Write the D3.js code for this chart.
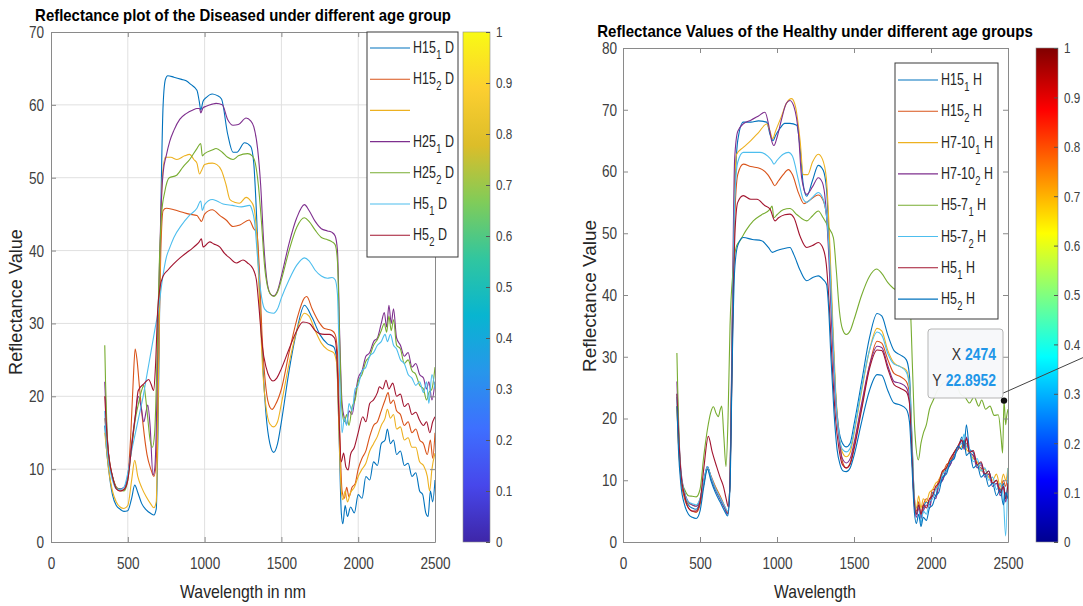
<!DOCTYPE html>
<html lang='en'>
<head>
<meta charset="utf-8">
<script src="https://cdn.jsdelivr.net/npm/d3@7/dist/d3.min.js"></script>
<style>
body { margin:0; background:#fff; }
svg text { font-family: "Liberation Sans", Arial, sans-serif; }
</style>
</head>
<body>
<svg id="chart" width="1083" height="606"></svg>
<script>

// ---------- axis ticks ----------
var wavelengthTicks = [0, 500, 1000, 1500, 2000, 2500];
var diseasedTicks = [0, 10, 20, 30, 40, 50, 60, 70];
var healthyTicks = [0, 10, 20, 30, 40, 50, 60, 70, 80];
var colorbarTicks = [0, 0.1, 0.2, 0.3, 0.4, 0.5, 0.6, 0.7, 0.8, 0.9, 1];

// ---------- left panel : diseased ----------
var diseasedLabels = [["H15","1","D"], ["H15","2","D"], null, ["H25","1","D"], ["H25","2","D"], ["H5","1","D"], ["H5","2","D"]];
var diseasedColors = ["#0072BD", "#D95319", "#EDB120", "#7E2F8E", "#77AC30", "#4DBEEE", "#A2142F"];

var h15_1_D = [[350,16],[360,13],[375,10],[400,6.5],[425,5],[450,4.5],[475,4.2],[500,4.3],[525,6],[545,7.8],[565,6.8],[590,5.3],[620,4.4],[650,3.9],[670,3.7],[685,4.5],[700,20],[715,45],[730,60],[745,63.5],[760,64],[800,63.8],[850,63.5],[880,63.3],[910,62.8],[950,62],[965,60.5],[975,59.3],[990,60.5],[1010,61],[1050,61.5],[1080,61.3],[1110,60.8],[1150,56],[1185,53.5],[1210,53.5],[1260,54.8],[1300,54.3],[1320,52],[1340,44],[1360,33],[1380,24],[1400,17.5],[1425,13.5],[1450,12.3],[1475,13.5],[1500,16.5],[1550,23.5],[1600,29],[1650,32.5],[1700,30.8],[1750,28.5],[1800,27.2],[1840,26.8],[1860,25],[1875,15],[1890,4],[1900,2.5],[1915,5],[1930,3.5],[1950,4.8],[1975,4],[2000,6.5],[2025,6],[2050,9],[2075,8.5],[2100,11],[2125,10.5],[2150,13.5],[2175,14],[2190,15.5],[2210,13.5],[2230,14],[2250,12],[2275,12.5],[2300,10.5],[2325,10.8],[2350,9],[2375,9.5],[2400,7],[2420,6.5],[2440,4],[2455,3.5],[2470,7],[2485,5.5],[2500,8.5]];
var h15_2_D = [[350,17],[360,15],[375,12],[400,9],[425,7.5],[450,7],[475,7.2],[500,9],[520,15],[535,22],[548,26.5],[560,25],[575,21.5],[600,16],[625,12],[650,10],[670,9],[685,11],[700,25],[715,40],[730,45.5],[750,45.8],[800,45.6],[850,45.3],[900,45],[950,44.8],[968,44.3],[980,44],[1000,45],[1050,45.6],[1100,44.8],[1140,44.2],[1185,43.3],[1230,43.5],[1290,44.2],[1320,43],[1340,42.5],[1355,38],[1375,28],[1400,21],[1425,18.5],[1440,18.2],[1460,18.8],[1500,21],[1550,26],[1600,30.5],[1650,33.5],[1665,33.7],[1700,32],[1750,30],[1780,29.3],[1800,29.2],[1830,29],[1850,28.5],[1865,26],[1880,15],[1895,7],[1910,6],[1925,7.5],[1940,6.2],[1960,7.5],[1980,8],[2000,10],[2025,11.5],[2050,12.5],[2075,14.5],[2100,16],[2125,16.5],[2150,18],[2175,19.5],[2195,20.5],[2210,19],[2230,19.5],[2250,18],[2275,17.5],[2300,16],[2325,16.5],[2350,15],[2375,15.5],[2400,14],[2425,13.5],[2450,12],[2470,14],[2485,11.5],[2500,15]];
var h_blank_D = [[350,15],[360,13],[375,10],[400,7],[425,5.5],[450,4.8],[475,4.6],[500,5],[525,8.5],[545,11.2],[565,9],[590,7.5],[620,6.2],[650,5.2],[670,4.7],[685,5.5],[695,15],[710,38],[725,50],[745,52.8],[780,52.8],[820,52.5],[870,53],[903,53.2],[930,52.5],[950,52],[967,50.5],[980,51],[1000,51.8],[1050,52],[1080,51.8],[1110,51],[1140,49],[1165,47],[1200,46.6],[1227,46.5],[1270,47.3],[1300,46.8],[1320,46],[1340,42],[1360,32],[1380,23],[1400,18.5],[1425,16.2],[1450,15.8],[1475,16.5],[1500,19],[1550,24.5],[1600,29],[1650,31.4],[1680,31],[1720,29],[1760,27.3],[1800,26.4],[1840,26],[1860,24.5],[1875,15],[1890,7],[1900,5.8],[1915,7],[1930,5.5],[1950,6.8],[1975,7.5],[2000,9],[2025,10],[2050,10.8],[2075,12.5],[2100,13.5],[2125,14.5],[2150,16],[2175,17],[2190,18.2],[2210,17],[2230,17.5],[2250,15.5],[2275,15.8],[2300,14],[2325,14.3],[2350,13],[2375,13],[2400,11],[2425,10.5],[2450,9],[2465,7],[2480,10],[2500,12.2]];
var h25_1_D = [[350,22],[360,17],[375,12],[400,9],[425,7.5],[450,7.3],[475,7.5],[500,9],[525,13.5],[550,17.5],[568,20],[586,18.6],[604,16.5],[620,18],[630,18.8],[645,16],[664,9.2],[675,10],[685,15],[700,33],[715,45],[730,50.7],[750,53],[773,55],[800,56.5],[838,58],[880,58.8],[924,59.3],[950,59.5],[967,59.5],[975,58.9],[990,59.6],[1010,59.8],[1050,60.1],[1075,60.2],[1115,60],[1150,58],[1185,57.2],[1220,57.3],[1270,58.2],[1300,57.8],[1320,57],[1345,54],[1365,49],[1385,41],[1405,36],[1430,34],[1450,33.8],[1475,34.5],[1500,36.5],[1550,41],[1600,44.5],[1650,46.3],[1680,45.5],[1720,44],[1760,43],[1800,42.7],[1830,42.5],[1850,42],[1865,40],[1880,28],[1895,19],[1910,17],[1925,16.2],[1940,18],[1960,17.5],[1980,20],[2000,22.5],[2025,23.5],[2050,25.5],[2075,26],[2100,27.5],[2125,28],[2150,30],[2170,31.5],[2185,29.5],[2200,32.5],[2215,30],[2230,32],[2250,28],[2275,27],[2300,25.5],[2325,26],[2350,24],[2375,24.5],[2400,23],[2425,22.5],[2445,21],[2460,22],[2480,19.5],[2500,22]];
var h25_2_D = [[350,27],[355,22],[365,15],[380,11],[400,9],[425,7.5],[450,7.2],[475,7],[500,8.5],[525,13],[550,17],[575,19.5],[590,20.8],[605,21.5],[615,20],[630,17],[645,14],[660,13],[675,15],[690,25],[705,38],[720,45],[740,48],[770,50],[815,50.3],[860,51.5],[903,52.5],[950,54],[975,54.7],[985,53],[1000,53.3],[1050,53.8],[1075,54],[1115,53.5],[1150,52.8],[1185,52.5],[1220,53],[1281,53.3],[1310,53],[1330,52],[1350,49],[1370,44],[1390,38],[1410,35],[1430,34],[1450,33.7],[1475,34.3],[1500,36],[1550,40],[1600,43.2],[1650,44.5],[1680,44],[1720,42.8],[1760,41.8],[1800,41.5],[1830,41.2],[1850,40.8],[1865,38.5],[1880,27],[1895,18],[1910,16.5],[1925,17.5],[1940,16],[1960,18.5],[1980,19.5],[2000,22],[2025,23],[2050,24.8],[2075,25.5],[2100,27],[2125,27.8],[2150,29],[2170,30],[2185,28.8],[2200,31],[2215,29],[2230,30.5],[2250,27],[2275,26.5],[2300,24.5],[2325,25],[2350,23.5],[2375,23],[2400,21.5],[2425,21],[2445,19.5],[2460,20.5],[2480,21],[2500,24]];
var h5_1_D = [[350,18],[360,14],[375,11],[400,8.5],[425,7.3],[450,7.2],[475,7.5],[500,9.5],[525,12.5],[550,15],[575,17.5],[600,20],[625,23],[650,26],[675,29],[700,32],[725,36],[750,39],[775,40.5],[800,41.8],[850,43.5],[900,44.8],[950,45.8],[975,46.8],[985,45.5],[1000,46.3],[1050,47],[1080,46.8],[1120,46.4],[1180,46.2],[1240,46],[1293,46.2],[1310,45.5],[1325,44],[1345,39],[1365,34.5],[1390,32],[1420,31.5],[1450,31.4],[1475,32],[1500,33.5],[1550,36],[1600,38],[1650,39],[1680,38.6],[1720,37.3],[1760,36.5],[1800,36.2],[1830,36.3],[1850,36],[1865,34],[1880,22],[1895,15],[1910,17],[1925,16],[1940,19],[1960,18],[1980,21],[2000,21.5],[2025,23.5],[2050,24],[2075,25.5],[2100,26],[2125,27],[2150,27.5],[2175,28.5],[2190,27.5],[2210,28.5],[2230,27],[2250,26.5],[2275,25],[2300,24.5],[2325,23],[2350,22.5],[2375,21.5],[2400,22],[2425,20.5],[2445,22],[2460,19],[2480,23],[2500,21]];
var h5_2_D = [[350,20],[360,16],[375,12],[400,9],[425,7.3],[450,7],[475,7.2],[500,8.5],[525,13.1],[550,17.5],[568,20.8],[604,21.7],[636,22.3],[651,21.7],[668,20.8],[680,24],[695,32],[710,35],[730,36.5],[760,37.3],[795,38.1],[840,39],[882,39.7],[920,40.3],[947,40.8],[965,41.2],[979,41.6],[990,40.5],[1000,40.6],[1033,41.2],[1060,40.9],[1098,40.5],[1130,39.6],[1163,39],[1207,38.3],[1250,38.7],[1280,38.3],[1315,37.5],[1337,36],[1355,32],[1375,27],[1400,24],[1425,22.5],[1445,22.1],[1470,22.5],[1500,23.8],[1550,26.5],[1600,29],[1640,30.2],[1683,30],[1720,29],[1748,28.6],[1780,28.5],[1813,28.5],[1846,28],[1860,26],[1875,17],[1890,11],[1905,12.2],[1920,10.3],[1935,9.9],[1950,12],[1975,13],[2000,15],[2030,17.2],[2050,16.5],[2075,19],[2100,19.5],[2125,20.5],[2138,21.3],[2160,21],[2181,22.2],[2200,21],[2225,21.8],[2250,20],[2275,20.3],[2300,18.6],[2325,19],[2350,17.5],[2375,17.8],[2400,16.7],[2425,16],[2445,16.5],[2466,15],[2485,16.5],[2500,17.2]];

// ---------- right panel : healthy ----------
var healthyLabels = [["H15","1","H"], ["H15","2","H"], ["H7-10","1","H"], ["H7-10","2","H"], ["H5-7","1","H"], ["H5-7","2","H"], ["H5","1","H"], ["H5","2","H"]];
var healthyColors = ["#0072BD", "#D95319", "#EDB120", "#7E2F8E", "#77AC30", "#4DBEEE", "#A2142F", "#0072BD"];

var h15_1_H = [[350,23.5],[360,17],[375,11],[400,7.5],[425,6],[450,5.5],[475,5.3],[500,6.5],[525,9.5],[548,12.2],[570,10.5],[600,8.5],[630,7],[660,5.5],[680,4.5],[695,10],[710,35],[725,55],[745,65],[781,68],[830,68],[880,68.2],[933,68],[955,66],[975,65],[990,65.8],[1020,67],[1050,67.8],[1084,67.8],[1128,67.5],[1149,64],[1170,58],[1193,56],[1230,58.5],[1268,61],[1300,60.2],[1322,57],[1340,48],[1360,35],[1380,24],[1400,18.5],[1425,16],[1450,15.4],[1475,16],[1500,19],[1550,26],[1600,33],[1650,37],[1680,36.6],[1720,33.5],[1760,31],[1800,30.3],[1840,29.5],[1860,27],[1875,18],[1890,8],[1905,4.5],[1920,6],[1935,4],[1950,5.5],[1970,6.5],[1990,6],[2010,8],[2030,7.5],[2050,9.5],[2075,10],[2100,12],[2125,12.5],[2150,14.5],[2175,15],[2200,17],[2215,15.5],[2230,19],[2250,15],[2275,14.5],[2300,12.5],[2325,12.8],[2350,11],[2375,11.5],[2400,9.5],[2425,10],[2450,8],[2470,9.5],[2485,7],[2500,10]];
var h15_2_H = [[350,22],[360,16],[375,10.5],[400,7],[425,5.5],[450,5],[475,4.8],[500,6],[525,9.5],[548,12.1],[570,10.8],[600,9],[630,7.5],[660,5.8],[680,4.8],[695,10],[710,33],[725,52],[745,59.5],[781,61.2],[830,60.8],[890,60.5],[940,59.5],[965,58.5],[985,57.7],[1010,58.5],[1040,59.5],[1074,60.3],[1100,59.5],[1140,56.5],[1175,54.8],[1210,55.3],[1268,56.2],[1300,55.3],[1325,52],[1345,44],[1365,32],[1385,22],[1405,16.5],[1425,13],[1450,12],[1475,12.8],[1500,15.5],[1550,22],[1600,28.5],[1650,32.5],[1680,32.2],[1720,29.5],[1760,27.3],[1800,26.8],[1840,26],[1860,24],[1875,16],[1890,7],[1905,5],[1920,6.5],[1935,4.5],[1950,6],[1970,7],[1990,6.5],[2010,8.5],[2030,8.5],[2050,10],[2075,11],[2100,12.5],[2125,13],[2150,14.5],[2175,15.5],[2200,16.5],[2215,15.5],[2230,16],[2250,14.5],[2275,14],[2300,12.5],[2325,12],[2350,11],[2375,11],[2400,9.5],[2425,10],[2450,8.5],[2470,10],[2485,9],[2500,11.5]];
var h7_10_1_H = [[350,22],[360,16],[375,11],[400,8],[425,6.3],[450,6],[475,5.8],[500,7],[525,9.8],[548,12],[570,10.5],[600,8.8],[630,7.2],[660,5.6],[680,4.8],[695,10],[710,36],[725,58],[738,62.8],[781,63.9],[830,65],[880,66.3],[933,67.7],[955,66.5],[972,65.3],[990,66.5],[1030,69],[1060,71],[1095,71.8],[1120,70.5],[1150,65],[1171,59.5],[1200,59.5],[1230,61.5],[1268,62.8],[1295,62],[1320,59],[1340,50],[1360,37],[1380,25],[1400,18],[1425,14.5],[1450,13.8],[1475,14.5],[1500,17.5],[1550,24.5],[1600,31],[1650,34.6],[1680,34.2],[1720,31],[1760,29],[1800,28.4],[1840,27.8],[1860,25.5],[1875,17],[1890,8],[1905,5.5],[1920,7.5],[1935,5.5],[1950,7],[1970,6.5],[1990,8],[2010,8.5],[2030,9.5],[2050,10],[2075,11.5],[2100,12],[2125,13.5],[2150,14],[2175,15],[2200,15.5],[2215,16.5],[2230,15],[2250,14.5],[2275,13.5],[2300,13],[2325,11.5],[2350,11.8],[2375,10.5],[2400,10],[2425,11],[2450,9],[2470,11],[2485,10],[2500,12]];
var h7_10_2_H = [[350,26],[360,19],[375,12],[400,8],[425,6.5],[450,6],[475,5.8],[500,6.8],[525,10],[548,12.2],[570,10.5],[600,8.5],[630,7],[660,5.5],[680,4.6],[695,10],[710,38],[725,62],[745,66.5],[781,67.7],[830,68.3],[880,69],[922,69.6],[950,67],[965,65],[980,64.2],[1000,65.5],[1030,68.5],[1060,71],[1084,71.5],[1110,70.5],[1140,66],[1160,59],[1193,56.3],[1230,57.5],[1268,59],[1295,58.2],[1315,55],[1335,47],[1355,35],[1375,25],[1400,17.5],[1425,13.5],[1450,12.8],[1475,13.5],[1500,16],[1550,22.5],[1600,28.5],[1650,31.7],[1680,31.5],[1720,28.5],[1760,26],[1800,25.7],[1840,25],[1860,23],[1875,15],[1890,6.5],[1905,4],[1920,5.5],[1935,3.8],[1950,5],[1970,6],[1990,5.5],[2010,7.5],[2030,7],[2050,9],[2075,10],[2100,11.5],[2125,12.5],[2150,14],[2175,15],[2200,16.5],[2215,15],[2230,17],[2250,14.5],[2275,14],[2300,12],[2325,12.5],[2350,10.5],[2375,11],[2400,9],[2425,9.5],[2450,7.5],[2470,9],[2485,6.5],[2500,8.5]];
var h5_7_1_H = [[350,30.6],[355,25],[365,16],[380,10],[400,8.5],[425,7.5],[450,7.4],[475,7.3],[500,8.5],[525,14],[550,18.5],[570,21],[587,21.9],[605,20.8],[619,20.3],[632,21.5],[641,22],[655,17],[669,12.2],[682,20],[695,35],[715,44],[738,48],[760,48.8],[800,50.5],[846,52],[900,53],[955,53.9],[968,54.4],[980,52.5],[1000,53],[1040,53.8],[1084,54],[1130,53],[1193,52],[1230,52.8],[1268,53.6],[1300,52.5],[1333,51],[1366,49.3],[1385,44],[1405,37.5],[1425,34.5],[1450,33.6],[1475,34.2],[1500,36],[1550,40],[1600,43],[1647,44.2],[1680,43.5],[1720,42],[1755,41.1],[1800,40.5],[1840,40],[1865,38],[1880,28],[1895,18],[1918,13.3],[1935,16],[1950,17.6],[1970,19],[1990,21.5],[2015,23],[2040,24.5],[2070,25.5],[2100,26],[2130,25],[2160,25.8],[2190,24],[2220,23.5],[2250,22.5],[2280,23.5],[2310,22],[2329,23],[2355,21.5],[2383,22],[2410,20.5],[2437,20.6],[2455,17],[2465,14.4],[2474,22.9],[2485,19],[2491,20.3],[2500,21.5]];
var h5_7_2_H = [[350,24],[360,17.5],[375,11.5],[400,8],[425,6.5],[450,6.2],[475,6],[500,7],[525,10],[548,12.2],[570,10.7],[600,8.7],[630,7.2],[660,5.8],[680,5],[695,10],[710,34],[725,55],[745,61.5],[781,63.1],[830,63.1],[890,63.1],[940,62.5],[965,61.8],[980,61.2],[1000,61.8],[1040,62.8],[1074,63.1],[1100,62.5],[1140,58.5],[1170,55.5],[1193,55],[1230,55.8],[1268,56.6],[1300,55.5],[1325,52],[1345,44],[1365,32],[1385,22],[1405,17],[1425,15],[1450,14.6],[1475,15.2],[1500,18],[1550,25],[1600,31],[1650,34],[1680,33.5],[1720,30.5],[1760,28.8],[1800,28.4],[1840,27.5],[1860,25],[1875,17],[1890,8],[1905,4.5],[1920,6],[1935,3],[1950,5],[1970,4.5],[1990,6.5],[2010,7],[2030,8.5],[2050,9],[2075,11],[2100,11.5],[2125,13],[2150,13.5],[2175,15.5],[2200,16],[2215,17.5],[2230,15.5],[2250,15],[2275,13],[2300,13.5],[2325,11.5],[2350,12],[2375,10],[2400,10.5],[2425,8.5],[2450,9.5],[2470,7],[2485,1],[2500,12]];
var h5_1_H = [[350,24],[360,18],[375,11.5],[400,7.5],[425,5.5],[450,5],[475,5],[500,6.5],[525,12],[554,17.1],[580,14.5],[608,12.2],[630,10.5],[652,9],[670,7],[684,5.7],[697,12],[712,35],[727,50],[745,55],[781,56.1],[830,55.5],[870,55.5],[920,54.5],[955,53.9],[987,52],[1010,52.5],[1050,53],[1084,53.1],[1110,52.5],[1150,49.5],[1193,47.7],[1230,48],[1268,48.5],[1300,47.5],[1320,45],[1340,38],[1360,28],[1380,20],[1400,15.5],[1425,12.5],[1450,12],[1475,12.6],[1500,15],[1550,21.5],[1600,28],[1650,31.1],[1680,31],[1720,28],[1760,25.5],[1800,24.9],[1840,24.3],[1860,22.5],[1875,15],[1890,7],[1905,4.5],[1920,6],[1935,4.5],[1950,6],[1970,5.5],[1990,7],[2010,7.5],[2030,9],[2050,9.5],[2075,11.5],[2100,12],[2125,13.5],[2150,14.5],[2175,15.5],[2200,16.5],[2215,15.5],[2230,16.8],[2250,14.5],[2275,14.8],[2300,12.5],[2325,13],[2350,11],[2375,11.5],[2400,9.5],[2425,10],[2450,8],[2470,9],[2485,7],[2500,9.5]];
var h5_2_H = [[350,22],[360,15],[375,9.5],[400,6],[425,4.5],[450,4],[475,3.8],[500,5],[525,9],[548,11.8],[570,10],[600,8],[630,6.5],[660,5],[680,4.2],[695,9],[710,30],[725,44],[745,48],[781,49.3],[840,49],[900,48.8],[944,47.7],[970,46.9],[1000,47.2],[1040,47.5],[1084,47.7],[1110,46.5],[1150,44],[1193,42.3],[1230,42.8],[1268,43.1],[1300,42.5],[1322,41.7],[1335,38],[1350,30],[1370,21],[1390,15],[1410,12.5],[1430,11.5],[1450,11.4],[1475,12],[1500,14],[1550,19.5],[1600,24.5],[1650,27.1],[1680,27],[1720,24.5],[1760,22.5],[1800,22.2],[1840,21.5],[1860,19.5],[1875,13],[1890,5.5],[1905,3],[1920,4.5],[1935,2.5],[1950,4],[1970,3.5],[1990,5.5],[2010,6],[2030,7.5],[2050,8],[2075,10.5],[2100,11],[2125,13],[2150,13.5],[2175,15.5],[2200,15],[2215,16.5],[2230,14],[2250,14.5],[2275,12],[2300,12.5],[2325,10.5],[2350,11],[2375,9],[2400,9.5],[2425,7.5],[2450,8.5],[2470,6],[2485,8],[2500,7]];

// data tip
var tipPoint = [2474, 22.8952];

// colormaps (parula / jet key colours)
var parulaStops = ["#3E26A8", "#4747EB", "#3E6FFF", "#2796EB", "#08B5D0", "#31C69F", "#80CC59", "#DCBD29", "#FCCF30", "#F9FA14"];
var jetStops = ["#00008F", "#0000FF", "#0080FF", "#00FFFF", "#80FF80", "#FFFF00", "#FF8000", "#FF0000", "#800000"];

var svg = d3.select("#chart");
var defs = svg.append("defs");

var axisGray = "#8a8a8a";
var textGray = "#404040";
var SQ = 0.8; // horizontal squeeze, the original uses a narrow face

// text squeezed to a target width around (cx, cy)
function fitText(cx, cy, str, width, opts) {
  var g = svg.append("g");
  var t = g.append("text").attr("text-anchor", "middle")
    .attr("font-size", opts.size).attr("fill", opts.fill || "#262626")
    .attr("font-weight", opts.bold ? "bold" : null)
    .text(str);
  var f = width / t.node().getComputedTextLength();
  g.attr("transform", "translate(" + cx + "," + cy + ")" + (opts.rotate ? " rotate(-90)" : "") + " scale(" + f + ",1)");
  return g;
}

function drawPanel(p) {
  var x = d3.scaleLinear().domain([0, 2500]).range([p.left, p.right]);
  var y = d3.scaleLinear().domain([0, p.ymax]).range([p.bottom, p.top]);

  defs.append("clipPath").attr("id", "clip" + p.id)
    .append("rect")
    .attr("x", p.left).attr("y", p.top)
    .attr("width", p.right - p.left).attr("height", p.bottom - p.top);

  var g = svg.append("g");

  // grid
  if (p.grid) {
    g.selectAll(".gx").data(wavelengthTicks.slice(1, -1)).enter().append("line")
      .attr("x1", d => x(d)).attr("x2", d => x(d))
      .attr("y1", p.top).attr("y2", p.bottom)
      .attr("stroke", "#e0e0e0");
    g.selectAll(".gy").data(p.yTicks.slice(1, -1)).enter().append("line")
      .attr("y1", d => y(d)).attr("y2", d => y(d))
      .attr("x1", p.left).attr("x2", p.right)
      .attr("stroke", "#e0e0e0");
  }

  // spectra
  var line = d3.line()
    .x(d => x(d[0]))
    .y(d => y(d[1]))
    .curve(d3.curveMonotoneX);

  g.append("g").attr("clip-path", "url(#clip" + p.id + ")")
    .selectAll("path").data(p.series).enter().append("path")
    .attr("d", d => line(d))
    .attr("fill", "none")
    .attr("stroke", (d, i) => p.colors[i])
    .attr("stroke-width", 1.1)
    .attr("stroke-linejoin", "round");

  // axes
  var fmt = d3.format("d");
  var bottom = g.append("g").attr("transform", "translate(0," + p.bottom + ")")
    .call(d3.axisBottom(x).tickValues(wavelengthTicks).tickFormat(fmt).tickSize(-5).tickSizeOuter(0).tickPadding(15));
  var left = g.append("g").attr("transform", "translate(" + p.left + ",0)")
    .call(d3.axisLeft(y).tickValues(p.yTicks).tickFormat(fmt).tickSize(-5).tickSizeOuter(0).tickPadding(p.yPad / SQ));
  var top = g.append("g").attr("transform", "translate(0," + p.top + ")")
    .call(d3.axisTop(x).tickValues(wavelengthTicks).tickSize(-5).tickSizeOuter(0).tickFormat(""));
  var right = g.append("g").attr("transform", "translate(" + p.right + ",0)")
    .call(d3.axisRight(y).tickValues(p.yTicks).tickSize(-5).tickSizeOuter(0).tickFormat(""));

  [bottom, left, top, right].forEach(function(a) {
    a.select(".domain").attr("stroke", axisGray);
    a.selectAll(".tick line").attr("stroke", axisGray);
    a.selectAll(".tick text").attr("fill", textGray).attr("font-size", 17)
      .style("font-family", "'Liberation Sans', Arial, sans-serif")
      .attr("transform", "scale(" + SQ + ",1)");
  });

  // title and labels
  fitText(p.titleX, p.titleY, p.title, p.titleW, {size: 16.5, bold: true, fill: "#000"});
  fitText(p.xLabelX, 598, p.xLabel, p.xLabelW, {size: 18});
  fitText(p.yLabelX, p.yLabelY, "Reflectance Value", p.yLabelW, {size: 18, rotate: true});

  // legend
  var lg = svg.append("g");
  lg.append("rect")
    .attr("x", p.legend.x).attr("y", p.legend.y)
    .attr("width", p.legend.w).attr("height", p.legend.h)
    .attr("fill", "#fff").attr("stroke", "#3a3a3a");
  var rows = lg.selectAll(".row").data(p.labels).enter().append("g")
    .attr("transform", (d, i) => "translate(" + p.legend.x + "," + (p.legend.first + i * p.legend.step) + ")");
  rows.append("line")
    .attr("x1", 3).attr("x2", 43).attr("y1", 0).attr("y2", 0)
    .attr("stroke", (d, i) => p.colors[i]).attr("stroke-width", 1.1);
  rows.filter(d => d).each(function(d) {
    var tg = d3.select(this).append("g").attr("transform", "translate(46,5) scale(0.78,1)");
    var base = tg.append("text").attr("font-size", 16).attr("fill", "#262626").text(d[0]);
    var w0 = base.node().getComputedTextLength() + 0.5;
    var sub = tg.append("text").attr("x", w0).attr("y", 6).attr("font-size", 12).attr("fill", "#262626").text(d[1]);
    var w1 = sub.node().getComputedTextLength() + 4.5;
    tg.append("text").attr("x", w0 + w1).attr("font-size", 16).attr("fill", "#262626").text(d[2]);
  });

  // colorbar
  var gid = "grad" + p.id;
  var grad = defs.append("linearGradient").attr("id", gid)
    .attr("x1", 0).attr("y1", 1).attr("x2", 0).attr("y2", 0);
  grad.selectAll("stop").data(p.cmap).enter().append("stop")
    .attr("offset", (d, i) => i / (p.cmap.length - 1))
    .attr("stop-color", d => d);

  var cy = d3.scaleLinear().domain([0, 1]).range([p.bottom, p.cbTop]);
  svg.append("rect")
    .attr("x", p.cbX).attr("y", p.cbTop)
    .attr("width", p.cbW).attr("height", p.bottom - p.cbTop)
    .attr("fill", "url(#" + gid + ")")
    .attr("stroke", axisGray).attr("stroke-width", 0.6);
  var cbAxis = svg.append("g").attr("transform", "translate(" + (p.cbX + p.cbW) + ",0)")
    .call(d3.axisRight(cy).tickValues(colorbarTicks).tickFormat(d => String(d)).tickSize(-4).tickSizeOuter(0).tickPadding(6 / 0.78));
  cbAxis.select(".domain").remove();
  cbAxis.selectAll(".tick line").attr("stroke", "#555");
  cbAxis.selectAll(".tick text").attr("fill", textGray).attr("font-size", 15)
    .style("font-family", "'Liberation Sans', Arial, sans-serif")
    .attr("transform", "scale(0.78,1)");

  return {x: x, y: y};
}

drawPanel({
  id: "D", left: 51, right: 435, top: 32, bottom: 542, ymax: 70,
  yTicks: diseasedTicks, yPad: 7, grid: true,
  series: [h15_1_D, h15_2_D, h_blank_D, h25_1_D, h25_2_D, h5_1_D, h5_2_D],
  colors: diseasedColors, labels: diseasedLabels,
  title: "Reflectance plot of the Diseased under different age group",
  titleX: 243, titleY: 21, titleW: 416,
  xLabel: "Wavelength in nm", xLabelX: 243, xLabelW: 126,
  yLabelX: 22, yLabelY: 302, yLabelW: 146,
  legend: {x: 367, y: 32, w: 91, h: 225, first: 48, step: 31.2},
  cmap: parulaStops, cbX: 463, cbW: 27, cbTop: 32
});

var rightPanel = drawPanel({
  id: "H", left: 623, right: 1008, top: 48, bottom: 542, ymax: 80,
  yTicks: healthyTicks, yPad: 6, grid: false,
  series: [h15_1_H, h15_2_H, h7_10_1_H, h7_10_2_H, h5_7_1_H, h5_7_2_H, h5_1_H, h5_2_H],
  colors: healthyColors, labels: healthyLabels,
  title: "Reflectance Values of the Healthy under different age groups",
  titleX: 815, titleY: 37, titleW: 436,
  xLabel: "Wavelength", xLabelX: 815, xLabelW: 82,
  yLabelX: 596, yLabelY: 296, yLabelW: 152,
  legend: {x: 895, y: 63, w: 103, h: 256, first: 80, step: 31.3},
  cmap: jetStops, cbX: 1036, cbW: 22, cbTop: 48
});

// data tip on the healthy panel
var tx = rightPanel.x(tipPoint[0]), ty = rightPanel.y(tipPoint[1]);
svg.append("line")
  .attr("x1", tx - 2).attr("y1", ty - 7).attr("x2", 1083).attr("y2", ty - 43)
  .attr("stroke", "#444").attr("stroke-width", 1);
var tip = svg.append("g");
tip.append("rect")
  .attr("x", 928).attr("y", 329).attr("width", 75).attr("height", 69).attr("rx", 3)
  .attr("fill", "#f7f8fa").attr("fill-opacity", 0.95)
  .attr("stroke", "#b5b5b5");
[["X", String(tipPoint[0]), 360], ["Y", String(tipPoint[1]), 386]].forEach(function(r) {
  var tg = tip.append("g").attr("transform", "translate(996," + r[2] + ") scale(0.82,1)");
  var val = tg.append("text").attr("text-anchor", "end").attr("font-size", 17)
    .attr("font-weight", "bold").attr("fill", "#2196E8").text(r[1]);
  var w = val.node().getComputedTextLength();
  tg.append("text").attr("x", -w - 5).attr("text-anchor", "end").attr("font-size", 17)
    .attr("fill", "#333").text(r[0]);
});
svg.append("circle").attr("cx", tx).attr("cy", ty).attr("r", 3.2).attr("fill", "#111");

</script>
</body>
</html>
